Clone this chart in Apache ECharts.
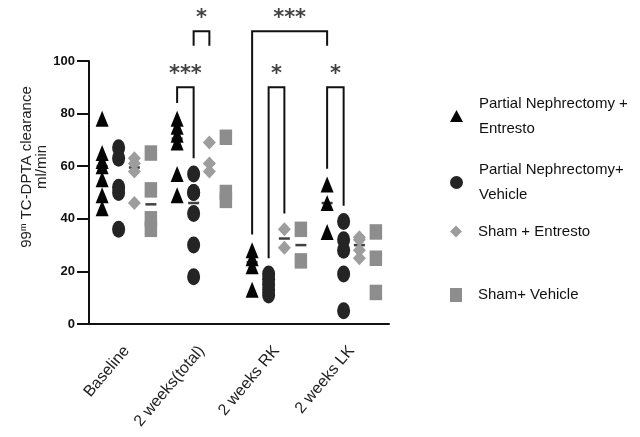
<!DOCTYPE html>
<html>
<head>
<meta charset="utf-8">
<script src="https://cdn.jsdelivr.net/npm/echarts@6/dist/echarts.min.js"></script>
<style>
  html, body { margin: 0; padding: 0; background: #fff; }
  #chart { width: 640px; height: 437px; }
</style>
</head>
<body>
<div id="chart"></div>
<script>
// ---- data -------------------------------------------------------------
const categories = ['Baseline', '2 weeks(total)', '2 weeks RK', '2 weeks LK'];
const yTicks = [0, 20, 40, 60, 80, 100];
const groupNames = [
  'Partial Nephrectomy +\nEntresto',
  'Partial Nephrectomy+\nVehicle',
  'Sham + Entresto',
  'Sham+ Vehicle'
];
// one inner array per time point (categories order), values in ml/min
const pnEntresto   = [[78, 65, 62, 60, 55, 49, 44], [78, 75, 72, 69, 57, 49], [28, 25, 22, 13], [53, 46, 35]];
const pnVehicle    = [[67, 63, 52, 50, 36], [57, 50, 50, 42, 30, 18], [19, 17, 15, 13, 11], [39, 32, 28, 19, 5]];
const shamEntresto = [[63, 61, 58, 46], [69, 61, 58], [36, 29], [33, 32, 28, 25]];
const shamVehicle  = [[65, 51, 40, 36], [71, 50, 47], [36, 24], [35, 25, 12]];
// significance: [time point, group index] pairs compared
const comparisons = [
  { from: [1, 0], to: [1, 1], stars: '***', tier: 0, legs: ['long', 'long'] },
  { from: [2, 1], to: [2, 2], stars: '*',   tier: 0, legs: ['long', 'long'] },
  { from: [3, 0], to: [3, 1], stars: '*',   tier: 0, legs: ['long', 'long'] },
  { from: [1, 1], to: [1, 2], stars: '*',   tier: 1, legs: ['short', 'short'] },
  { from: [2, 0], to: [3, 0], stars: '***', tier: 1, legs: ['long', 'short'] }
];

// ---- styling ------------------------------------------------------------
const FONT = "'Liberation Sans', Arial, Helvetica, sans-serif";
const groups = [pnEntresto, pnVehicle, shamEntresto, shamVehicle];
const offsets = [-0.325, -0.105, 0.105, 0.325];
const symbols = ['triangle', 'circle', 'diamond', 'rect'];
const sizes = [[13, 16], [13, 17], [13, 14], [12.5, 15.5]];
const colors = ['#050505', '#242424', '#9d9d9d', '#8d8d8d'];
const legendTops = [91, 157.5, 219, 282.5];
const legendIcons = [[13, 12], [13, 15], [12, 12], [12, 14]];
const tierTop = [90, 111.3];
const legGap = 6, shortLeg = 5.5;

function median(arr) {
  const s = arr.slice().sort((a, b) => a - b);
  const m = Math.floor(s.length / 2);
  return s.length % 2 ? s[m] : (s[m - 1] + s[m]) / 2;
}

const pointSeries = groups.map((g, k) => ({
  name: groupNames[k],
  type: 'scatter',
  xAxisIndex: 1,
  symbol: symbols[k],
  symbolSize: sizes[k],
  itemStyle: { color: colors[k], opacity: 1 },
  emphasis: { disabled: true },
  z: 3,
  data: g.flatMap((vals, i) => vals.map(v => [i + offsets[k], v]))
}));

// median bar of each group, drawn beneath the points
const medianSeries = {
  type: 'scatter',
  xAxisIndex: 1,
  symbol: 'rect',
  symbolSize: [11, 2.5],
  itemStyle: { color: '#111' },
  silent: true,
  z: 2,
  data: groups.flatMap((g, k) => g.map((vals, i) => [i + offsets[k], median(vals)]))
};

function legEnd(pt, kind, top) {
  const vals = groups[pt[1]][pt[0]];
  return kind === 'short' ? top - shortLeg : Math.max.apply(null, vals) + legGap;
}

const bracketSeries = comparisons.map(c => {
  const top = tierTop[c.tier];
  const xa = c.from[0] + offsets[c.from[1]];
  const xb = c.to[0] + offsets[c.to[1]];
  return {
    type: 'line',
    xAxisIndex: 1,
    clip: false,
    symbol: 'none',
    silent: true,
    z: 4,
    lineStyle: { color: '#111', width: 2, join: 'miter' },
    data: [[xa, legEnd(c.from, c.legs[0], top)], [xa, top], [xb, top], [xb, legEnd(c.to, c.legs[1], top)]]
  };
});

const starSeries = {
  type: 'scatter',
  xAxisIndex: 1,
  clip: false,
  symbolSize: 1,
  itemStyle: { color: 'transparent' },
  silent: true,
  z: 5,
  label: {
    show: true, position: 'inside', formatter: '{b}',
    fontFamily: "'DejaVu Sans', sans-serif", fontWeight: 'bold', fontSize: 21, color: '#111'
  },
  data: comparisons.map(c => ({
    name: c.stars,
    value: [((c.from[0] + offsets[c.from[1]]) + (c.to[0] + offsets[c.to[1]])) / 2, tierTop[c.tier] + 5]
  }))
};

const chart = echarts.init(document.getElementById('chart'), null, { renderer: 'canvas' });
chart.setOption({
  animation: false,
  backgroundColor: '#fff',
  grid: { left: 89, right: 251, top: 61, bottom: 113 },
  xAxis: [
    {
      type: 'category',
      data: categories,
      boundaryGap: true,
      axisLine: { lineStyle: { color: '#111', width: 2 } },
      axisTick: { alignWithLabel: true, length: 10, lineStyle: { color: '#111', width: 2 } },
      axisLabel: { rotate: 50, fontSize: 16, color: '#222', margin: 24, fontFamily: FONT }
    },
    { type: 'value', min: -0.5, max: 3.5, show: false }
  ],
  yAxis: {
    type: 'value', min: yTicks[0], max: yTicks[yTicks.length - 1], interval: yTicks[1] - yTicks[0],
    axisLine: { show: true, onZero: false, lineStyle: { color: '#111', width: 2 } },
    axisTick: { show: true, length: 12, lineStyle: { color: '#111', width: 2 } },
    axisLabel: { fontSize: 13, fontWeight: 'bold', color: '#111', margin: 14, fontFamily: FONT },
    splitLine: { show: false }
  },
  legend: groupNames.map((n, k) => ({
    data: [n],
    left: 450,
    top: legendTops[k],
    orient: 'vertical',
    padding: 0,
    itemGap: 0,
    itemWidth: legendIcons[k][0],
    itemHeight: legendIcons[k][1],
    selectedMode: false,
    textStyle: { fontFamily: FONT, fontSize: 15, lineHeight: 25, color: '#111', padding: [0, 0, 0, 11] }
  })),
  graphic: [{
    type: 'text',
    x: 34, y: 167,
    rotation: Math.PI / 2,
    style: {
      text: '99{sup|m} TC-DPTA clearance\nml/min',
      fontFamily: FONT, fontSize: 15, fill: '#222',
      align: 'center', verticalAlign: 'middle', lineHeight: 15,
      rich: { sup: { fontSize: 9, verticalAlign: 'top', lineHeight: 15, fontFamily: FONT, fill: '#222' } }
    }
  }],
  series: [medianSeries].concat(pointSeries, bracketSeries, [starSeries])
});
</script>
</body>
</html>
